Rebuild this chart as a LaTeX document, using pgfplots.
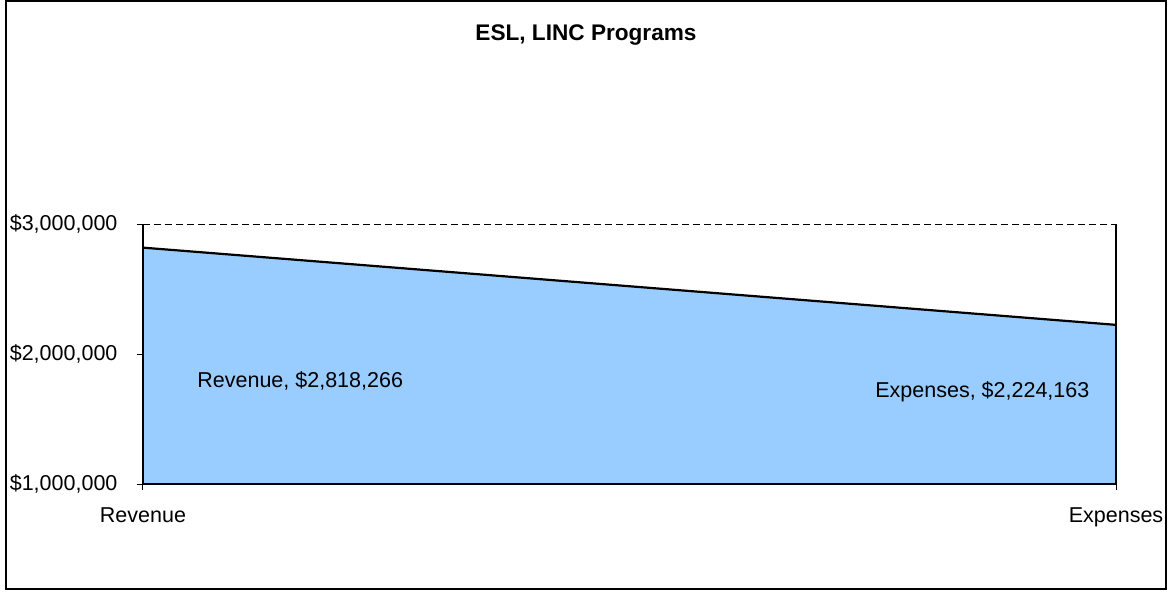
\documentclass[border=0pt]{standalone}
\usepackage{fontspec}
\setmainfont{Liberation Sans}
\usepackage{pgfplots}
\pgfplotsset{compat=1.18}
\definecolor{areablue}{HTML}{99CCFF}
\begin{document}
\fontsize{10.75}{12.9}\selectfont
\begin{tikzpicture}
\useasboundingbox (-71.5pt,-53.5pt) rectangle (514pt,242pt);
\draw[line width=0.6pt] (-68.5pt,-52.5pt) rectangle (511.5pt,241.5pt);
\begin{axis}[
  at={(0,0)}, anchor=south west,
  scale only axis, width=486.5pt, height=130pt,
  xmin=0, xmax=1, ymin=1000000, ymax=3000000,
  axis line style={draw=none},
  scaled y ticks=false,
  xtick={0,1}, xticklabels={Revenue,Expenses},
  ytick={1000000,2000000,3000000},
  yticklabels={{\$1,000,000},{\$2,000,000},{\$3,000,000}},
  xtick pos=bottom, ytick pos=left,
  tick align=outside, major tick length=3pt,
  tick style={black, line width=0.5pt},
  ymajorgrids, grid style={black, dash pattern=on 3.5pt off 2pt, line width=0.5pt},
  ticklabel style={font=\fontsize{10.75}{12.9}\selectfont},
  yticklabel style={xshift=-6pt},
  xticklabel style={yshift=-5pt},
  clip=false,
]
\addplot[fill=areablue, draw=none] coordinates {(0,2818266) (1,2224163)} \closedcycle;
\addplot[black, line width=1.1pt] coordinates {(0,2818266) (1,2224163)};
\draw[black, line width=0.7pt] (rel axis cs:0,1) -- (rel axis cs:0,0) -- (rel axis cs:1,0) -- (rel axis cs:1,1);
\node[anchor=west, inner sep=0pt] at (axis cs:0.0555,1792000) {Revenue, \$2,818,266};
\node[anchor=east, inner sep=0pt] at (axis cs:0.973,1708000) {Expenses, \$2,224,163};
\end{axis}
\node[font=\bfseries\fontsize{11.3}{13.5}\selectfont] at (221.5pt,224.5pt) {ESL, LINC Programs};
\end{tikzpicture}
\end{document}
